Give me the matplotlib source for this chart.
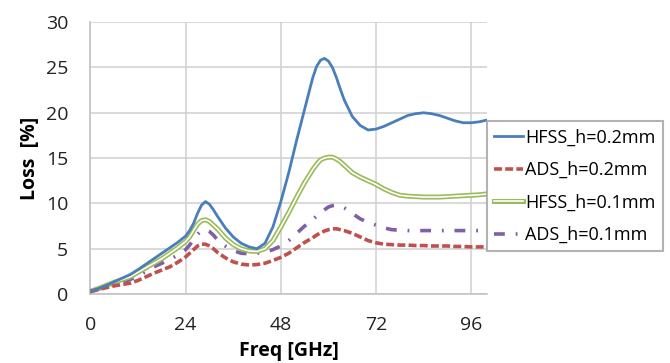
import matplotlib
matplotlib.use("Agg")
import matplotlib.pyplot as plt
from matplotlib.lines import Line2D
import matplotlib.patheffects as pe

plt.rcParams['font.family'] = ['Open Sans', 'DejaVu Sans']

freq = [0, 2, 4, 6, 8, 10, 12, 14, 16, 18, 20, 22, 24, 25, 26, 27, 28, 29, 30, 31, 32,
        34, 36, 38, 40, 42, 44, 46, 48, 50, 52, 54, 56, 57, 58, 59, 60, 61, 62, 63, 64,
        66, 68, 70, 72, 74, 76, 78, 80, 82, 84, 86, 88, 90, 92, 94, 96, 98, 100]

hfss_02 = [0.3, 0.6, 0.95, 1.35, 1.75, 2.15, 2.7, 3.3, 3.9, 4.5, 5.1, 5.7, 6.4, 7.0, 7.8, 8.9, 9.8, 10.2, 9.9, 9.3, 8.6,
           7.3, 6.3, 5.6, 5.2, 5.0, 5.6, 7.4, 10.2, 13.4, 17.0, 20.4, 23.8, 25.1, 25.8, 26.0, 25.7, 25.0, 23.9, 22.6, 21.4,
           19.6, 18.6, 18.1, 18.2, 18.5, 18.9, 19.3, 19.7, 19.9, 20.0, 19.9, 19.7, 19.4, 19.1, 18.9, 18.9, 19.0, 19.2]

ads_02 = [0.3, 0.5, 0.7, 0.9, 1.05, 1.2, 1.5, 1.9, 2.3, 2.65, 3.0, 3.5, 4.1, 4.5, 4.9, 5.3, 5.5, 5.5, 5.3, 5.0, 4.6,
          4.0, 3.55, 3.3, 3.2, 3.25, 3.4, 3.7, 4.05, 4.5, 5.1, 5.7, 6.2, 6.5, 6.75, 6.95, 7.1, 7.2, 7.2, 7.1, 7.0,
          6.7, 6.3, 5.9, 5.65, 5.5, 5.45, 5.4, 5.4, 5.35, 5.35, 5.3, 5.3, 5.3, 5.25, 5.25, 5.2, 5.2, 5.2]

hfss_01 = [0.3, 0.6, 0.95, 1.3, 1.6, 1.9, 2.4, 2.9, 3.4, 3.9, 4.5, 5.1, 5.8, 6.3, 7.0, 7.7, 8.1, 8.2, 8.0, 7.6, 7.2,
           6.2, 5.45, 5.0, 4.75, 4.7, 5.0, 5.9, 7.4, 9.0, 10.7, 12.3, 13.7, 14.3, 14.8, 15.0, 15.1, 15.1, 14.9, 14.6, 14.2,
           13.4, 12.9, 12.5, 12.1, 11.6, 11.2, 10.9, 10.8, 10.75, 10.7, 10.7, 10.7, 10.75, 10.8, 10.85, 10.9, 10.95, 11.05]

ads_01 = [0.3, 0.55, 0.8, 1.1, 1.35, 1.6, 2.0, 2.5, 3.0, 3.4, 3.8, 4.3, 4.9, 5.4, 6.0, 6.6, 7.0, 7.1, 6.9, 6.5, 6.0,
          5.3, 4.8, 4.5, 4.45, 4.5, 4.6, 4.9, 5.3, 5.9, 6.7, 7.5, 8.2, 8.6, 9.0, 9.3, 9.6, 9.75, 9.8, 9.7, 9.5,
          8.9, 8.3, 7.9, 7.6, 7.3, 7.1, 7.05, 7.0, 7.0, 7.0, 7.0, 7.0, 7.0, 7.0, 7.0, 7.0, 7.0, 7.0]

labels = ["HFSS_h=0.2mm", "ADS_h=0.2mm", "HFSS_h=0.1mm", "ADS_h=0.1mm"]
xticks = [0, 24, 48, 72, 96]
yticks = [0, 5, 10, 15, 20, 25, 30]

c_blue = "#4a7ebb"
c_red = "#c0504d"
c_green = "#9bbb59"
c_purple = "#7f5fa8"

red_dash = (2.2, 0.9)
purple_dash = (3.0, 3.0, 0.5, 3.0)

fig = plt.figure(figsize=(6.7, 3.63), dpi=100)
ax = fig.add_axes([0.135, 0.19, 0.592, 0.749])

ax.plot(freq, hfss_02, color=c_blue, lw=2.0, solid_capstyle='round', zorder=5)
ax.plot(freq, ads_02, color=c_red, lw=2.6, dashes=red_dash, zorder=4)
ax.plot(freq, hfss_01, color=c_green, lw=3.6, zorder=3)
ax.plot(freq, hfss_01, color="white", lw=1.2, zorder=3.1)
ax.plot(freq, ads_01, color=c_purple, lw=2.6, dashes=purple_dash, zorder=2)

ax.set_xlim(0, 100)
ax.set_ylim(0, 30)
ax.set_xticks(xticks)
ax.set_yticks(yticks)
ax.grid(True, color="#d0d0d0", lw=1.1)
ax.set_axisbelow(True)
for s in ["top", "right"]:
    ax.spines[s].set_visible(False)
for s in ["left", "bottom"]:
    ax.spines[s].set_color("#bfbfbf")
    ax.spines[s].set_linewidth(1.1)
ax.tick_params(axis='both', length=0, labelsize=14, colors="#222222")
ax.tick_params(axis='x', pad=16)
ax.tick_params(axis='y', pad=16)
ax.set_xlabel("Freq [GHz]", fontsize=14, fontweight='bold', labelpad=5)
ax.set_ylabel("Loss  [%]", fontsize=14, fontweight='bold', labelpad=4)

handles = [
    Line2D([], [], color=c_blue, lw=2.0),
    Line2D([], [], color=c_red, lw=2.6, dashes=red_dash),
    Line2D([], [], color=c_green, lw=3.6,
           path_effects=[pe.Stroke(linewidth=3.6, foreground=c_green), pe.Stroke(linewidth=1.2, foreground='white')]),
    Line2D([], [], color=c_purple, lw=2.6, dashes=purple_dash),
]
leg = fig.legend(handles, labels, loc='center left', bbox_to_anchor=(0.727, 0.487),
                 fontsize=13.0, frameon=True, fancybox=False, handlelength=1.6,
                 handletextpad=0.1, borderpad=0.4, labelspacing=0.8, borderaxespad=0)
leg.get_frame().set_edgecolor("#a0a0a0")
leg.get_frame().set_linewidth(1.5)

fig.savefig("out.png", dpi=100)
